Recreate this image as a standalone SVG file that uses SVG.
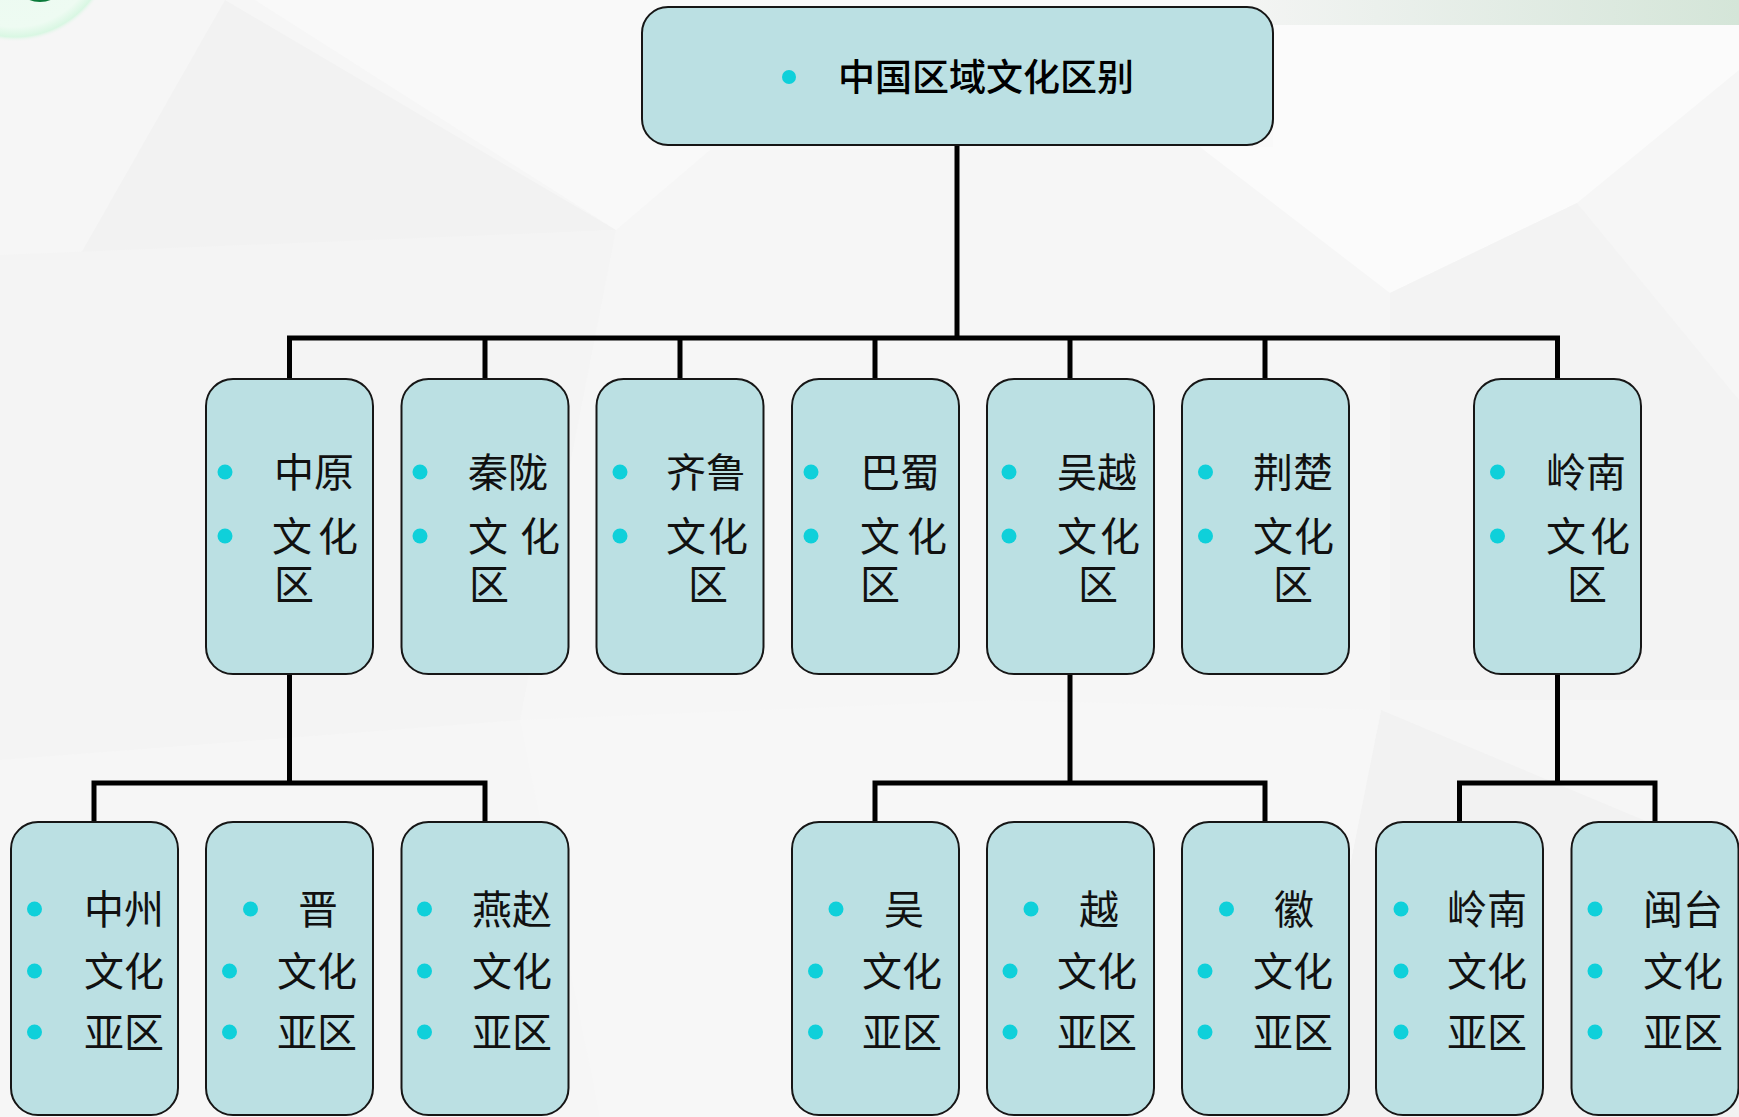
<svg xmlns="http://www.w3.org/2000/svg" width="1739" height="1117" viewBox="0 0 1739 1117">
  <defs>
    <linearGradient id="topband" x1="0" y1="0" x2="1" y2="0">
      <stop offset="0" stop-color="#f3f4f3"/>
      <stop offset="1" stop-color="#d4e5d8"/>
    </linearGradient>
    <radialGradient id="greenglow" cx="0.5" cy="0.5" r="0.5">
      <stop offset="0" stop-color="#eafaf0"/>
      <stop offset="0.85" stop-color="#eefbf2"/>
      <stop offset="0.95" stop-color="#d9f7e3"/>
      <stop offset="1" stop-color="#f5f5f5" stop-opacity="0"/>
    </radialGradient>
  </defs>
  <style>
    .box { fill: #bbe0e3; stroke: #161616; stroke-width: 2; }
    .dot { fill: #0fd0da; }
    .t { font-family: "Noto Sans CJK SC", "Noto Sans CJK TC", sans-serif; font-size: 40px; fill: #111; }
    .tr { font-family: "Noto Sans CJK SC", "Noto Sans CJK TC", sans-serif; font-size: 37px; font-weight: 500; fill: #000; }
    .conn { fill: none; stroke: #000; stroke-width: 5; stroke-linejoin: miter; }
    .facet { stroke: none; }
  </style>

  <!-- background -->
  <g id="background">
    <rect x="0" y="0" width="1739" height="1117" fill="#f6f6f6"/>
    <polygon class="facet" points="225,0 616,230 80,255" fill="#f2f2f2"/>
    <polygon class="facet" points="0,255 616,230 520,720 0,760" fill="#f4f4f4"/>
    <polygon class="facet" points="255,0 1250,0 1250,25 1273,25 1273,147 1200,147 710,150 616,230" fill="#f9f9f9"/>
    <polygon class="facet" points="1200,147 1390,293 1577,203 1739,70 1739,25 1273,25 1273,147" fill="#fbfbfb"/>
    <polygon class="facet" points="1390,293 1577,203 1739,400 1739,700 1390,700" fill="#f3f3f3"/>
    <polygon class="facet" points="1381,710 1739,860 1739,1117 1300,1117" fill="#f2f2f2"/>
    <polygon class="facet" points="520,720 1000,700 1381,710 1300,1117 600,1117" fill="#f7f7f7"/>
    <rect x="1250" y="0" width="489" height="25" fill="url(#topband)"/>
    <circle cx="15" cy="-58" r="100" fill="url(#greenglow)"/>
    <ellipse cx="40" cy="-6" rx="16" ry="8" fill="#0b7a3a"/>
  </g>

  <!-- connectors -->
  <g id="connectors">
    <path class="conn" d="M957,145 V338"/>
    <path class="conn" d="M289.5,379 V338 H1557.5 V379"/>
    <path class="conn" d="M485,338 V379 M680,338 V379 M875,338 V379 M1070,338 V379 M1265,338 V379"/>
    <path class="conn" d="M289.5,674 V783"/>
    <path class="conn" d="M94,822 V783 H485 V822"/>
    <path class="conn" d="M1070,674 V783"/>
    <path class="conn" d="M875,822 V783 H1265 V822"/>
    <path class="conn" d="M1557.5,674 V783"/>
    <path class="conn" d="M1459.5,822 V783 H1655 V822"/>
  </g>

  <!-- root -->
  <g id="root">
    <rect class="box" x="642" y="7" width="631" height="138" rx="26"/>
    <circle class="dot" cx="789" cy="77" r="7"/>
    <text class="tr" x="838" y="91">中国区域文化区别</text>
  </g>

  <!-- second level -->
  <g id="zhongyuan">
    <rect class="box" x="206" y="379" width="167" height="295" rx="27"/>
    <circle class="dot" cx="225" cy="472" r="7.5"/>
    <circle class="dot" cx="225" cy="536" r="7.5"/>
    <text class="t" x="274" y="487">中原</text>
    <text class="t" x="272" y="551">文</text>
    <text class="t" x="318" y="551">化</text>
    <text class="t" x="274" y="599">区</text>
  </g>
  <g id="qinlong">
    <rect class="box" x="401.5" y="379" width="167" height="295" rx="27"/>
    <circle class="dot" cx="420" cy="472" r="7.5"/>
    <circle class="dot" cx="420" cy="536" r="7.5"/>
    <text class="t" x="468" y="487">秦陇</text>
    <text class="t" x="468" y="551">文</text>
    <text class="t" x="520" y="551">化</text>
    <text class="t" x="469" y="599">区</text>
  </g>
  <g id="qilu">
    <rect class="box" x="596.5" y="379" width="167" height="295" rx="27"/>
    <circle class="dot" cx="620" cy="472" r="7.5"/>
    <circle class="dot" cx="620" cy="536" r="7.5"/>
    <text class="t" x="666" y="487">齐鲁</text>
    <text class="t" x="666" y="551">文</text>
    <text class="t" x="708" y="551">化</text>
    <text class="t" x="688" y="599">区</text>
  </g>
  <g id="bashu">
    <rect class="box" x="792" y="379" width="167" height="295" rx="27"/>
    <circle class="dot" cx="811" cy="472" r="7.5"/>
    <circle class="dot" cx="811" cy="536" r="7.5"/>
    <text class="t" x="860" y="487">巴蜀</text>
    <text class="t" x="860" y="551">文</text>
    <text class="t" x="907" y="551">化</text>
    <text class="t" x="860" y="599">区</text>
  </g>
  <g id="wuyue">
    <rect class="box" x="987" y="379" width="167" height="295" rx="27"/>
    <circle class="dot" cx="1009" cy="472" r="7.5"/>
    <circle class="dot" cx="1009" cy="536" r="7.5"/>
    <text class="t" x="1057" y="487">吴越</text>
    <text class="t" x="1057" y="551">文</text>
    <text class="t" x="1100" y="551">化</text>
    <text class="t" x="1078" y="599">区</text>
  </g>
  <g id="jingchu">
    <rect class="box" x="1182" y="379" width="167" height="295" rx="27"/>
    <circle class="dot" cx="1205.5" cy="472" r="7.5"/>
    <circle class="dot" cx="1205.5" cy="536" r="7.5"/>
    <text class="t" x="1253" y="487">荆楚</text>
    <text class="t" x="1253" y="551">文</text>
    <text class="t" x="1294" y="551">化</text>
    <text class="t" x="1273" y="599">区</text>
  </g>
  <g id="lingnan">
    <rect class="box" x="1474" y="379" width="167" height="295" rx="27"/>
    <circle class="dot" cx="1497.5" cy="472" r="7.5"/>
    <circle class="dot" cx="1497.5" cy="536" r="7.5"/>
    <text class="t" x="1546" y="487">岭南</text>
    <text class="t" x="1546" y="551">文</text>
    <text class="t" x="1590" y="551">化</text>
    <text class="t" x="1567" y="599">区</text>
  </g>

  <!-- third level -->
  <g id="zhongzhou">
    <rect class="box" x="11" y="822" width="167" height="293" rx="27"/>
    <circle class="dot" cx="34.5" cy="909" r="7.5"/>
    <circle class="dot" cx="34.5" cy="971" r="7.5"/>
    <circle class="dot" cx="34.5" cy="1032" r="7.5"/>
    <text class="t" x="84" y="924">中州</text>
    <text class="t" x="84" y="986">文化</text>
    <text class="t" x="84" y="1047">亚区</text>
  </g>
  <g id="jin">
    <rect class="box" x="206" y="822" width="167" height="293" rx="27"/>
    <circle class="dot" cx="250.5" cy="909" r="7.5"/>
    <circle class="dot" cx="229.5" cy="971" r="7.5"/>
    <circle class="dot" cx="229.5" cy="1032" r="7.5"/>
    <text class="t" x="298" y="924">晋</text>
    <text class="t" x="277" y="986">文化</text>
    <text class="t" x="277" y="1047">亚区</text>
  </g>
  <g id="yanzhao">
    <rect class="box" x="401.5" y="822" width="167" height="293" rx="27"/>
    <circle class="dot" cx="424.5" cy="909" r="7.5"/>
    <circle class="dot" cx="424.5" cy="971" r="7.5"/>
    <circle class="dot" cx="424.5" cy="1032" r="7.5"/>
    <text class="t" x="472" y="924">燕赵</text>
    <text class="t" x="472" y="986">文化</text>
    <text class="t" x="472" y="1047">亚区</text>
  </g>
  <g id="wu">
    <rect class="box" x="792" y="822" width="167" height="293" rx="27"/>
    <circle class="dot" cx="836" cy="909" r="7.5"/>
    <circle class="dot" cx="815.5" cy="971" r="7.5"/>
    <circle class="dot" cx="815.5" cy="1032" r="7.5"/>
    <text class="t" x="884" y="924">吴</text>
    <text class="t" x="862" y="986">文化</text>
    <text class="t" x="862" y="1047">亚区</text>
  </g>
  <g id="yue">
    <rect class="box" x="987" y="822" width="167" height="293" rx="27"/>
    <circle class="dot" cx="1031" cy="909" r="7.5"/>
    <circle class="dot" cx="1010" cy="971" r="7.5"/>
    <circle class="dot" cx="1010" cy="1032" r="7.5"/>
    <text class="t" x="1079" y="924">越</text>
    <text class="t" x="1057" y="986">文化</text>
    <text class="t" x="1057" y="1047">亚区</text>
  </g>
  <g id="hui">
    <rect class="box" x="1182" y="822" width="167" height="293" rx="27"/>
    <circle class="dot" cx="1226.5" cy="909" r="7.5"/>
    <circle class="dot" cx="1205" cy="971" r="7.5"/>
    <circle class="dot" cx="1205" cy="1032" r="7.5"/>
    <text class="t" x="1274" y="924">徽</text>
    <text class="t" x="1253" y="986">文化</text>
    <text class="t" x="1253" y="1047">亚区</text>
  </g>
  <g id="lingnan-sub">
    <rect class="box" x="1376" y="822" width="167" height="293" rx="27"/>
    <circle class="dot" cx="1401" cy="909" r="7.5"/>
    <circle class="dot" cx="1401" cy="971" r="7.5"/>
    <circle class="dot" cx="1401" cy="1032" r="7.5"/>
    <text class="t" x="1447" y="924">岭南</text>
    <text class="t" x="1447" y="986">文化</text>
    <text class="t" x="1447" y="1047">亚区</text>
  </g>
  <g id="mintai">
    <rect class="box" x="1571.5" y="822" width="167" height="293" rx="27"/>
    <circle class="dot" cx="1595" cy="909" r="7.5"/>
    <circle class="dot" cx="1595" cy="971" r="7.5"/>
    <circle class="dot" cx="1595" cy="1032" r="7.5"/>
    <text class="t" x="1643" y="924">闽台</text>
    <text class="t" x="1643" y="986">文化</text>
    <text class="t" x="1643" y="1047">亚区</text>
  </g>
</svg>
